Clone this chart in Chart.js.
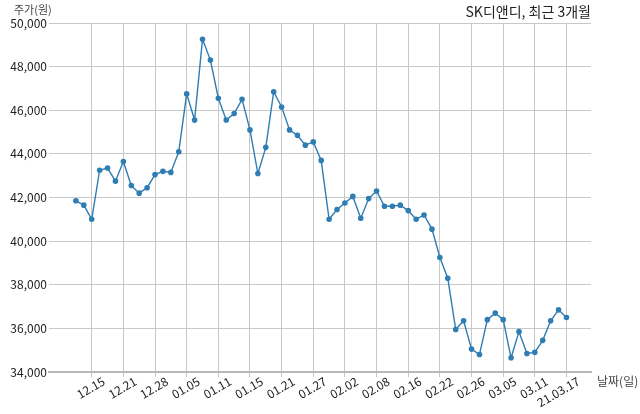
<!DOCTYPE html>
<html>
<head>
<meta charset="utf-8">
<script src="https://cdn.jsdelivr.net/npm/chart.js@4.4.0/dist/chart.umd.min.js"></script>
<style>
  html, body { margin: 0; padding: 0; background: #fff; }
  #wrap { width: 640px; height: 414px; }
</style>
</head>
<body>
<div id="wrap"><canvas id="chart" width="640" height="414"></canvas></div>
<script>
// 거래일 (마지막 라벨만 연도 포함)
const dates = [
  '12.11', '12.14', '12.15', '12.16', '12.17', '12.18', '12.21', '12.22', '12.23', '12.24',
  '12.28', '12.29', '12.30', '01.04', '01.05', '01.06', '01.07', '01.08', '01.11', '01.12',
  '01.13', '01.14', '01.15', '01.18', '01.19', '01.20', '01.21', '01.22', '01.25', '01.26',
  '01.27', '01.28', '01.29', '02.01', '02.02', '02.03', '02.04', '02.05', '02.08', '02.09',
  '02.10', '02.15', '02.16', '02.17', '02.18', '02.19', '02.22', '02.23', '02.24', '02.25',
  '02.26', '03.02', '03.03', '03.04', '03.05', '03.08', '03.09', '03.10', '03.11', '03.12',
  '03.15', '03.16', '21.03.17'
];

// 종가 (원)
const prices = [
  41850, 41650, 41000, 43250, 43350, 42750, 43650, 42550, 42200, 42450,
  43050, 43200, 43150, 44100, 46750, 45550, 49250, 48300, 46550, 45550,
  45850, 46500, 45100, 43100, 44300, 46850, 46150, 45100, 44850, 44400,
  44550, 43700, 41000, 41450, 41750, 42050, 41050, 41950, 42300, 41600,
  41600, 41650, 41400, 41000, 41200, 40550, 39250, 38300, 35950, 36350,
  35050, 34800, 36400, 36700, 36400, 34650, 35850, 34850, 34900, 35450,
  36350, 36850, 36500
];

const yTicks = [34000, 36000, 38000, 40000, 42000, 44000, 46000, 48000, 50000];
const labelEvery = 4;
const firstLabel = 2;

const chartTitle = 'SK디앤디, 최근 3개월';
const yTitle = '주가(원)';
const xTitle = '날짜(일)';

Chart.defaults.font.family = "'Noto Sans CJK KR', 'Noto Sans', sans-serif";
Chart.defaults.color = '#222';

// 제목, 축 이름 그리기
const textPlugin = {
  id: 'texts',
  afterDraw(chart) {
    const ctx = chart.ctx;
    const area = chart.chartArea;
    ctx.save();
    ctx.textBaseline = 'middle';
    ctx.fillStyle = '#222';
    ctx.font = "14px 'Noto Sans CJK KR', sans-serif";
    ctx.textAlign = 'right';
    ctx.fillText(chartTitle, area.right, 12);
    ctx.fillStyle = '#444';
    ctx.font = "11px 'Noto Sans CJK KR', sans-serif";
    ctx.textAlign = 'left';
    ctx.fillText(yTitle, 14, 10);
    ctx.font = "12px 'Noto Sans CJK KR', sans-serif";
    ctx.fillText(xTitle, area.right + 6, area.bottom + 9);
    ctx.restore();
  }
};

const chart = document.querySelector('#chart').getContext('2d');

new Chart(chart, {
  type: 'line',
  data: {
    datasets: [{
      data: prices.map((v, i) => ({ x: i, y: v })),
      borderColor: '#2f7db3',
      backgroundColor: '#2f7db3',
      borderWidth: 1.4,
      pointRadius: 2.1,
      pointHoverRadius: 2.1,
      tension: 0
    }]
  },
  options: {
    responsive: false,
    animation: false,
    layout: { padding: { top: 23, right: 49, left: 0, bottom: 0 } },
    plugins: {
      legend: { display: false },
      tooltip: { enabled: false },
      title: { display: false }
    },
    scales: {
      x: {
        type: 'linear',
        min: -3.4,
        max: 65.1,
        afterBuildTicks(scale) {
          scale.ticks = dates
            .map((d, i) => i)
            .filter(i => i >= firstLabel && (i - firstLabel) % labelEvery === 0)
            .map(i => ({ value: i }));
        },
        afterFit(scale) { scale.height = 42; },
        ticks: {
          autoSkip: false,
          maxRotation: 30,
          minRotation: 30,
          padding: -3,
          labelOffset: 12,
          color: '#222',
          font: { size: 12 },
          callback: (v) => dates[v]
        },
        grid: { color: '#c8c8c8', lineWidth: 1, tickLength: 5 },
        border: { color: '#b8b8b8', width: 2 }
      },
      y: {
        min: 34000,
        max: 50000,
        afterBuildTicks(scale) {
          scale.ticks = yTicks.map(v => ({ value: v }));
        },
        afterFit(scale) { scale.width = 49; },
        ticks: {
          padding: 2,
          color: '#222',
          font: { size: 12 },
          callback: (v) => v.toLocaleString('en-US')
        },
        grid: { color: '#c8c8c8', lineWidth: 1, drawTicks: false },
        border: { display: false }
      }
    }
  },
  plugins: [textPlugin]
});
</script>
</body>
</html>
